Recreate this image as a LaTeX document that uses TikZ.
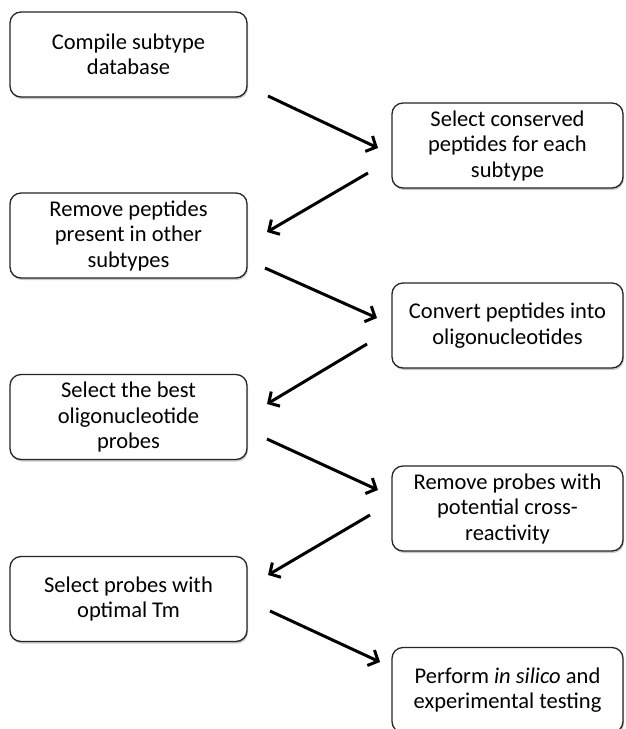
\documentclass[tikz,border=0pt]{standalone}
\usepackage{fontspec}
\setmainfont{Carlito}
\usetikzlibrary{arrows.meta,shadows}
\begin{document}
\begin{tikzpicture}[x=1pt,y=-1pt,
  stepbox/.style={draw=black!85, line width=1.3pt, rounded corners=11pt, fill=white,
    align=center, inner sep=0pt, font=\fontsize{22.5}{25.5}\selectfont,
    drop shadow={shadow xshift=1pt, shadow yshift=-2pt, opacity=0.35, fill=black!60}},
  lbox/.style={stepbox, minimum width=237pt, minimum height=85pt},
  rbox/.style={stepbox, minimum width=231pt, minimum height=85pt},
  flow/.style={line width=3pt, -{Straight Barb[length=8pt,width=17pt]}}]
\useasboundingbox (0,0) rectangle (625,729);
\fill[white] (0,0) rectangle (625,729);
\node[lbox] (b1) at (128.5,54.5) {Compile subtype\\database};
\node[rbox] (b2) at (507.5,145.5) {Select conserved\\peptides for each\\subtype};
\node[lbox] (b3) at (128.5,235.5) {Remove peptides\\present in other\\subtypes};
\node[rbox] (b4) at (507.5,325.5) {Convert peptides into\\oligonucleotides};
\node[lbox] (b5) at (128.5,417) {Select the best\\oligonucleotide\\probes};
\node[rbox] (b6) at (507.5,508.5) {Remove probes with\\potential cross-\\reactivity};
\node[lbox] (b7) at (128.5,599) {Select probes with\\optimal Tm};
\node[rbox] (b8) at (507.5,690) {Perform \textit{in silico} and\\experimental testing};
\coordinate (a1s) at (268,96);  \coordinate (a1e) at (378,148);
\coordinate (a2s) at (368,173); \coordinate (a2e) at (267,232);
\coordinate (a3s) at (265,268); \coordinate (a3e) at (377,318);
\coordinate (a4s) at (367,344); \coordinate (a4e) at (267,404);
\coordinate (a5s) at (267,439); \coordinate (a5e) at (378,490);
\coordinate (a6s) at (370,515); \coordinate (a6e) at (268,575);
\coordinate (a7s) at (270,611); \coordinate (a7e) at (380,662);
\draw[flow] (a1s) -- (a1e);
\draw[flow] (a2s) -- (a2e);
\draw[flow] (a3s) -- (a3e);
\draw[flow] (a4s) -- (a4e);
\draw[flow] (a5s) -- (a5e);
\draw[flow] (a6s) -- (a6e);
\draw[flow] (a7s) -- (a7e);
\end{tikzpicture}
\end{document}
